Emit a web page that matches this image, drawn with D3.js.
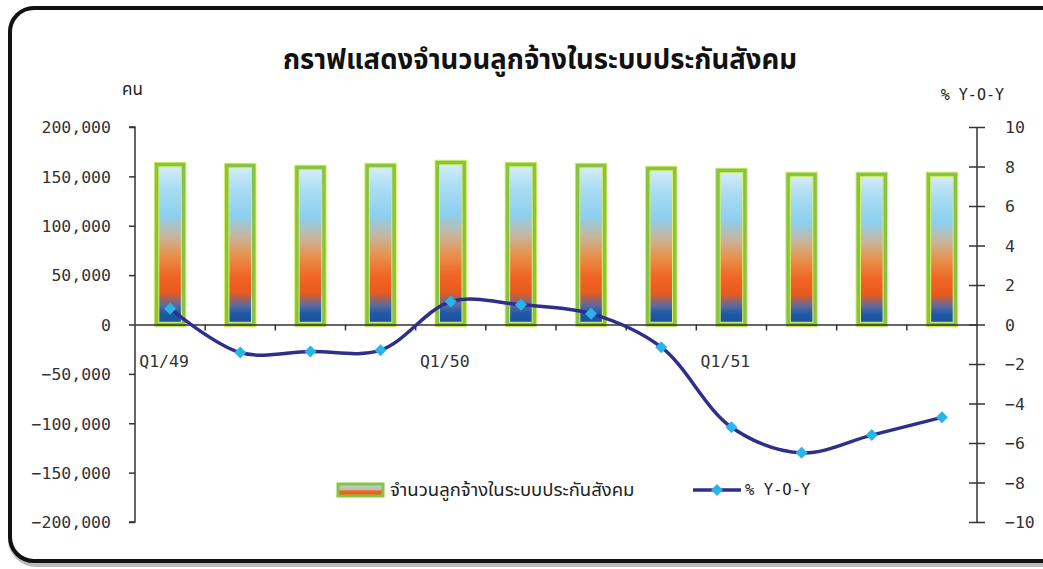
<!DOCTYPE html>
<html><head><meta charset="utf-8">
<script src="https://cdn.jsdelivr.net/npm/d3@7/dist/d3.min.js"></script>
<style>
html,body{margin:0;padding:0;background:#fff;}
svg{display:block;}
.tick text{font-family:"DejaVu Sans Mono",monospace;}
</style></head>
<body>
<svg id="c" width="1043" height="569"></svg>
<script>
const categories = ["Q1/49","Q2/49","Q3/49","Q4/49","Q1/50","Q2/50","Q3/50","Q4/50","Q1/51","Q2/51","Q3/51","Q4/51"];
const categoryLabels = ["Q1/49","","","","Q1/50","","","","Q1/51","","",""];
const employees = [162000,161000,159000,161000,164000,162000,161000,158000,156000,152000,152000,152000];
const yoy = [0.8,-1.42,-1.37,-1.3,1.16,1.0,0.55,-1.15,-5.2,-6.5,-5.6,-4.7];
const leftTicks = [-200000,-150000,-100000,-50000,0,50000,100000,150000,200000];
const rightTicks = [-10,-8,-6,-4,-2,0,2,4,6,8,10];
const title = "กราฟแสดงจำนวนลูกจ้างในระบบประกันสังคม";
const seriesNames = ["จำนวนลูกจ้างในระบบประกันสังคม","% Y-O-Y"];

const svg = d3.select("#c");
const L = 135, R = 977, T = 127, B = 522;

// frame
svg.append("rect").attr("x",12).attr("y",10).attr("width",1060).attr("height",553).attr("rx",24)
  .attr("fill","none").attr("stroke","#bbb").attr("stroke-width",8);
svg.append("rect").attr("x",10).attr("y",8).attr("width",1060).attr("height",553).attr("rx",24)
  .attr("fill","#fff").attr("stroke","#111").attr("stroke-width",4);

const defs = svg.append("defs");
const g = defs.append("linearGradient").attr("id","barGrad").attr("x1",0).attr("y1",0).attr("x2",0).attr("y2",1);
[[0,"#d8eefa"],[0.15,"#a9dcf3"],[0.32,"#8ccfee"],[0.45,"#c9b49a"],[0.57,"#e8904a"],[0.7,"#f06424"],[0.8,"#e85a1e"],[0.88,"#5b6aa0"],[0.93,"#1f5aa8"],[1,"#1a4f9a"]]
  .forEach(([o,c])=>g.append("stop").attr("offset",o).attr("stop-color",c));
const lg = defs.append("linearGradient").attr("id","legGrad").attr("x1",0).attr("y1",0).attr("x2",0).attr("y2",1);
[[0,"#9fd8f0"],[0.45,"#c9c0a0"],[0.6,"#f06424"],[1,"#e85a1e"]].forEach(([o,c])=>lg.append("stop").attr("offset",o).attr("stop-color",c));

const x = d3.scaleBand().domain(categories).range([L,R]).padding(0);
const yL = d3.scaleLinear().domain([-200000,200000]).range([B,T]);
const yR = d3.scaleLinear().domain([-10,10]).range([B,T]);

// title
svg.append("text").attr("x",540).attr("y",69).attr("text-anchor","middle")
  .attr("font-family","'Noto Sans Thai','Tahoma',sans-serif").attr("font-weight","bold").attr("font-size",27.5).attr("fill","#111").text(title);
svg.append("text").attr("x",122).attr("y",95).attr("font-family","'Noto Sans Thai',sans-serif").attr("font-size",17).attr("fill","#222").text("คน");
svg.append("text").attr("x",1004).attr("y",100).attr("text-anchor","end").attr("font-family","'DejaVu Sans Mono',monospace").attr("font-size",15).attr("fill","#222").text("% Y-O-Y");

// bars
const bw = x.bandwidth()*0.385;
svg.append("g").selectAll("rect").data(employees).join("rect")
  .attr("x",(d,i)=>x(categories[i])+x.bandwidth()/2-bw/2)
  .attr("y",d=>yL(d))
  .attr("width",bw)
  .attr("height",d=>yL(0)-yL(d))
  .attr("fill","url(#barGrad)")
  .attr("stroke","#d9ef6a").attr("stroke-width",5.5);
svg.append("g").selectAll("rect").data(employees).join("rect")
  .attr("x",(d,i)=>x(categories[i])+x.bandwidth()/2-bw/2)
  .attr("y",d=>yL(d))
  .attr("width",bw)
  .attr("height",d=>yL(0)-yL(d))
  .attr("fill","none")
  .attr("stroke","#86c441").attr("stroke-width",3.5);

// left axis
const axL = svg.append("g").attr("transform",`translate(${L},0)`)
  .call(d3.axisLeft(yL).tickValues(leftTicks).tickSize(6).tickPadding(18).tickFormat(d3.format(",")));
axL.select(".domain").attr("stroke","#333").attr("stroke-width",1.5).attr("d",`M-6,${T}H0V${B}H-6`);
axL.selectAll(".tick line").attr("stroke","#333").attr("stroke-width",1.5);
axL.selectAll(".tick text").attr("font-size",16.5).attr("fill","#333").attr("dy","0.35em");

// right axis
const axR = svg.append("g").attr("transform",`translate(${R},0)`)
  .call(d3.axisRight(yR).tickValues(rightTicks).tickSize(8).tickPadding(20));
axR.select(".domain").attr("stroke","#333").attr("stroke-width",1.5).attr("d",`M0,${T}V${B}`);
axR.selectAll(".tick line").attr("stroke","#333").attr("stroke-width",1.5).attr("x1",-8);
axR.selectAll(".tick text").attr("font-size",16.5).attr("fill","#333").attr("dy","0.35em");

// x axis at zero
const axX = svg.append("g").attr("transform",`translate(0,${yL(0)})`)
  .call(d3.axisBottom(x).tickValues([]).tickSize(0));
axX.select(".domain").attr("stroke","#333").attr("stroke-width",1.5);
svg.append("g").selectAll("line").data(categories.slice(1)).join("line")
  .attr("x1",d=>x(d)).attr("x2",d=>x(d)).attr("y1",yL(0)).attr("y2",yL(0)+6)
  .attr("stroke","#333").attr("stroke-width",1.5);
svg.append("g").selectAll("text").data(categoryLabels).join("text")
  .attr("x",(d,i)=>x(categories[i])+x.bandwidth()/2-6)
  .attr("y",yL(0)+42).attr("text-anchor","middle")
  .attr("font-family","'DejaVu Sans Mono',monospace").attr("font-size",16.5).attr("fill","#333")
  .text(d=>d);

// line
const line = d3.line().x((d,i)=>x(categories[i])+x.bandwidth()/2).y(d=>yR(d)).curve(d3.curveCatmullRom.alpha(0.5));
svg.append("path").datum(yoy).attr("d",line).attr("fill","none").attr("stroke","#2e2f8a").attr("stroke-width",3.5);
const diamond = d3.symbol().type(d3.symbolSquare).size(72);
svg.append("g").selectAll("path").data(yoy).join("path")
  .attr("transform",(d,i)=>`translate(${x(categories[i])+x.bandwidth()/2},${yR(d)}) rotate(45)`)
  .attr("d",diamond)
  .attr("fill","#2bb4e8");

// legend
const ly = 490;
svg.append("rect").attr("x",338).attr("y",ly-6).attr("width",45).attr("height",12)
  .attr("fill","url(#legGrad)").attr("stroke","#86c441").attr("stroke-width",3);
svg.append("text").attr("x",390).attr("y",ly+6).attr("font-family","'Noto Sans Thai',sans-serif").attr("font-size",18.5).attr("fill","#222").text(seriesNames[0]);
svg.append("line").attr("x1",693).attr("x2",741).attr("y1",ly).attr("y2",ly).attr("stroke","#2e2f8a").attr("stroke-width",3.5);
svg.append("path").attr("transform",`translate(717,${ly}) rotate(45)`).attr("d",diamond).attr("fill","#2bb4e8");
svg.append("text").attr("x",745).attr("y",ly+5).attr("font-family","'DejaVu Sans Mono',monospace").attr("font-size",15.5).attr("fill","#222").text(seriesNames[1]);
</script>
</body></html>
